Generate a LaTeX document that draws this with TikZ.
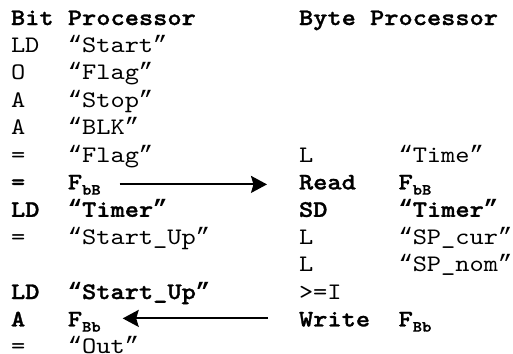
\documentclass[tikz,border=0pt]{standalone}
\usepackage{fontspec}
\setmonofont{lmmono10-regular.otf}[FakeStretch=1.143, BoldFont=lmmonolt10-bold.otf, BoldFeatures={FakeBold=1.2}]
\newfontfamily\qfont{Liberation Mono}
\newfontfamily\qfontb{Liberation Mono Bold}
\usetikzlibrary{arrows.meta}
\newcommand\subtxt[1]{\raisebox{-0.22em}{\fontsize{15.5bp}{15.5bp}\selectfont\bfseries #1}}
\newcommand\oq{{\qfont “}}
\newcommand\cq{{\qfont ”}}
\newcommand\boq{{\qfontb “}}
\newcommand\bcq{{\qfontb ”}}
\tikzset{
  cell/.style={anchor=base west, inner sep=0pt, outer sep=0pt,
    font=\fontsize{23.7bp}{27bp}\selectfont\ttfamily},
  hd/.style={cell, font=\fontsize{23.7bp}{27bp}\selectfont\ttfamily\bfseries},
  bcell/.style={hd},
  flow/.style={line width=2pt, -{Stealth[length=16bp, width=17bp, inset=2.5bp]}}
}
\begin{document}
\begin{tikzpicture}[x=1bp, y=-1bp]
\useasboundingbox (0,0) rectangle (513,353);
\def\w{14.22}
\def\cA{11}
\pgfmathsetmacro\cB{11+4*\w}
\def\cC{299}
\pgfmathsetmacro\cD{299+7*\w}
\def\rs{27.4}
% headings
\node[hd] (hl) at (\cA,25) {Bit Processor};
\node[hd] (hr) at (\cC,25) {Byte Processor};
% left column
\node[cell]  (lA1) at (\cA,25+1*\rs) {LD};
\node[cell]  (lB1) at (\cB,25+1*\rs) {\oq Start\cq};
\node[cell]  (lA2) at (\cA,25+2*\rs) {O};
\node[cell]  (lB2) at (\cB,25+2*\rs) {\oq Flag\cq};
\node[cell]  (lA3) at (\cA,25+3*\rs) {A};
\node[cell]  (lB3) at (\cB,25+3*\rs) {\oq Stop\cq};
\node[cell]  (lA4) at (\cA,25+4*\rs) {A};
\node[cell]  (lB4) at (\cB,25+4*\rs) {\oq BLK\cq};
\node[cell]  (lA5) at (\cA,25+5*\rs) {=};
\node[cell]  (lB5) at (\cB,25+5*\rs) {\oq Flag\cq};
\node[bcell] (lA6) at (\cA,25+6*\rs) {=};
\node[bcell] (lB6) at (\cB,25+6*\rs) {F\subtxt{bB}};
\node[bcell] (lA7) at (\cA,25+7*\rs) {LD};
\node[bcell] (lB7) at (\cB,25+7*\rs) {\boq Timer\bcq};
\node[cell]  (lA8) at (\cA,25+8*\rs) {=};
\node[cell]  (lB8) at (\cB,25+8*\rs) {\oq Start\_Up\cq};
\node[bcell] (lA10) at (\cA,25+10*\rs) {LD};
\node[bcell] (lB10) at (\cB,25+10*\rs) {\boq Start\_Up\bcq};
\node[bcell] (lA11) at (\cA,25+11*\rs) {A};
\node[bcell] (lB11) at (\cB,25+11*\rs) {F\subtxt{Bb}};
\node[cell]  (lA12) at (\cA,25+12*\rs) {=};
\node[cell]  (lB12) at (\cB,25+12*\rs) {\oq Out\cq};
% right column
\node[cell]  (rA5) at (\cC,25+5*\rs) {L};
\node[cell]  (rB5) at (\cD,25+5*\rs) {\oq Time\cq};
\node[bcell] (rA6) at (\cC,25+6*\rs) {Read};
\node[bcell] (rB6) at (\cD,25+6*\rs) {F\subtxt{bB}};
\node[bcell] (rA7) at (\cC,25+7*\rs) {SD};
\node[bcell] (rB7) at (\cD,25+7*\rs) {\boq Timer\bcq};
\node[cell]  (rA8) at (\cC,25+8*\rs) {L};
\node[cell]  (rB8) at (\cD,25+8*\rs) {\oq SP\_cur\cq};
\node[cell]  (rA9) at (\cC,25+9*\rs) {L};
\node[cell]  (rB9) at (\cD,25+9*\rs) {\oq SP\_nom\cq};
\node[cell]  (rA10) at (\cC,25+10*\rs) {>=I};
\node[bcell] (rA11) at (\cC,25+11*\rs) {Write};
\node[bcell] (rB11) at (\cD,25+11*\rs) {F\subtxt{Bb}};
% arrows
\draw[flow] ([shift={(19,-5)}]lB6.base east) -- ([shift={(-32,-5)}]rA6.base west);
\draw[flow] ([shift={(-31,-8)}]rA11.base west) -- ([shift={(22,-8)}]lB11.base east);
\end{tikzpicture}
\end{document}
